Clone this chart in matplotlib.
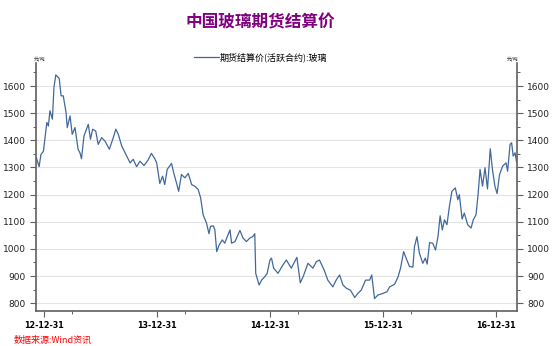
import numpy as np
import pandas as pd
import matplotlib
matplotlib.use("Agg")
import matplotlib.pyplot as plt
import matplotlib.dates as mdates
from matplotlib.ticker import MultipleLocator, FixedLocator

plt.rcParams['font.family'] = ['Noto Sans CJK SC', 'DejaVu Sans']

# glass futures settlement price (active contract)
dates = [
    "2012-12-05", "2012-12-14", "2012-12-20", "2012-12-28", "2013-01-08", "2013-01-13",
    "2013-01-18", "2013-01-26", "2013-01-31", "2013-02-06", "2013-02-17", "2013-02-23",
    "2013-03-02", "2013-03-11", "2013-03-15", "2013-03-24", "2013-03-31", "2013-04-09",
    "2013-04-19", "2013-04-25", "2013-04-30", "2013-05-08", "2013-05-22", "2013-05-29",
    "2013-06-05", "2013-06-15", "2013-06-23", "2013-07-04", "2013-07-15", "2013-07-29",
    "2013-08-09", "2013-08-19", "2013-08-27", "2013-09-07", "2013-09-23", "2013-10-04",
    "2013-10-14", "2013-10-25", "2013-11-05", "2013-11-18", "2013-12-01", "2013-12-12",
    "2013-12-23", "2013-12-29", "2014-01-08", "2014-01-17", "2014-01-24", "2014-02-01",
    "2014-02-15", "2014-02-22", "2014-03-03", "2014-03-10", "2014-03-19", "2014-03-30",
    "2014-04-10", "2014-04-21", "2014-05-01", "2014-05-12", "2014-05-20", "2014-05-28",
    "2014-06-08", "2014-06-16", "2014-06-21", "2014-06-30", "2014-07-05", "2014-07-11",
    "2014-07-19", "2014-07-29", "2014-08-06", "2014-08-14", "2014-08-23", "2014-08-28",
    "2014-09-08", "2014-09-15", "2014-09-24", "2014-10-04", "2014-10-15", "2014-10-26",
    "2014-11-04", "2014-11-11", "2014-11-14", "2014-11-25", "2014-12-03", "2014-12-13",
    "2014-12-21", "2014-12-30", "2015-01-04", "2015-01-11", "2015-01-25", "2015-02-10",
    "2015-02-21", "2015-03-09", "2015-03-27", "2015-04-07", "2015-04-16", "2015-05-02",
    "2015-05-18", "2015-05-29", "2015-06-08", "2015-06-24", "2015-07-05", "2015-07-21",
    "2015-08-01", "2015-08-12", "2015-08-23", "2015-09-03", "2015-09-16", "2015-09-30",
    "2015-10-10", "2015-10-21", "2015-11-04", "2015-11-17", "2015-11-24", "2015-12-03",
    "2015-12-14", "2015-12-30", "2016-01-12", "2016-01-21", "2016-02-06", "2016-02-17",
    "2016-02-25", "2016-03-06", "2016-03-14", "2016-03-25", "2016-04-05", "2016-04-10",
    "2016-04-18", "2016-04-26", "2016-05-07", "2016-05-15", "2016-05-21", "2016-05-29",
    "2016-06-08", "2016-06-17", "2016-06-25", "2016-07-02", "2016-07-09", "2016-07-16",
    "2016-07-24", "2016-08-01", "2016-08-09", "2016-08-20", "2016-08-28", "2016-09-02",
    "2016-09-11", "2016-09-18", "2016-09-29", "2016-10-10", "2016-10-17", "2016-10-26",
    "2016-11-02", "2016-11-08", "2016-11-16", "2016-11-24", "2016-12-02", "2016-12-11",
    "2016-12-18", "2016-12-26", "2017-01-02", "2017-01-10", "2017-01-20", "2017-01-31",
    "2017-02-05", "2017-02-13", "2017-02-18", "2017-02-23", "2017-03-01", "2017-03-06",
]
price = [
    1336, 1303, 1348, 1360, 1466, 1453,
    1509, 1478, 1595, 1641, 1628, 1564,
    1564, 1503, 1447, 1490, 1422, 1447,
    1367, 1354, 1332, 1416, 1459, 1404,
    1441, 1434, 1385, 1410, 1397, 1367,
    1404, 1441, 1422, 1379, 1342, 1317,
    1330, 1303, 1323, 1307, 1327, 1352,
    1332, 1317, 1241, 1268, 1237, 1293,
    1315, 1280, 1243, 1212, 1274, 1262,
    1278, 1237, 1231, 1219, 1188, 1126,
    1095, 1056, 1083, 1085, 1070, 990,
    1015, 1033, 1021, 1045, 1070, 1021,
    1027, 1045, 1068, 1040, 1027, 1040,
    1045, 1056, 910, 867, 885, 897,
    910, 959, 966, 929, 910, 941,
    959, 929, 969, 875, 897, 947,
    929, 953, 959, 920, 885, 860,
    885, 904, 867, 855, 848, 821,
    836, 848, 885, 885, 904, 817,
    830, 836, 842, 860, 870, 897,
    929, 990, 966, 935, 933, 1008,
    1045, 984, 947, 966, 944, 1023,
    1021, 996, 1045, 1122, 1070, 1107,
    1089, 1157, 1212, 1225, 1181, 1200,
    1110, 1132, 1089, 1077, 1107, 1126,
    1206, 1293, 1231, 1299, 1221, 1369,
    1293, 1231, 1204, 1274, 1305, 1317,
    1286, 1385, 1391, 1342, 1354, 1320,
]

tick_dates = ["2012-12-31", "2013-12-31", "2014-12-31", "2015-12-31", "2016-12-31"]
tick_labels = ["12-12-31", "13-12-31", "14-12-31", "15-12-31", "16-12-31"]
y_ticks = [800, 900, 1000, 1100, 1200, 1300, 1400, 1500, 1600]

title = "中国玻璃期货结算价"
series_name = "期货结算价(活跃合约):玻璃"
unit = "元/吨"
source = "数据来源:Wind资讯"

x = pd.to_datetime(dates)
axis_col = "#606060"

fig = plt.figure(figsize=(5.54, 3.46), dpi=100)
ax = fig.add_axes([0.065, 0.101, 0.868, 0.717])

ax.plot(x, price, color="#41689c", lw=0.9, label=series_name)

ax.set_xlim(pd.Timestamp("2012-12-04"), pd.Timestamp("2017-03-07"))
ax.set_ylim(771, 1685)

ax.xaxis.set_major_locator(FixedLocator(mdates.date2num(pd.to_datetime(tick_dates))))
ax.set_xticklabels(tick_labels, fontsize=5.8, fontweight="bold", family="DejaVu Sans")
ax.xaxis.set_minor_locator(mdates.MonthLocator(bymonth=[3, 6, 9, 12], bymonthday=31))

ax.set_yticks(y_ticks)
ax.yaxis.set_minor_locator(MultipleLocator(50))
ax.tick_params(axis="y", labelsize=6.5, colors="#222222", labelleft=True, labelright=True,
               left=True, right=True, which="both")
ax.tick_params(which="both", color=axis_col, direction="out")
ax.tick_params(which="major", length=4, width=0.8)
ax.tick_params(which="minor", length=2.5, width=0.7)
ax.tick_params(axis="x", pad=3)
for lab in ax.get_yticklabels():
    lab.set_family("DejaVu Sans")

ax.grid(axis="y", color="#e3e3e3", lw=0.8)
ax.set_axisbelow(True)
ax.spines["top"].set_visible(False)
for s in ["left", "right", "bottom"]:
    ax.spines[s].set_color(axis_col)
    ax.spines[s].set_linewidth(1.2)

fig.text(0.47, 0.935, title, ha="center", va="center", fontsize=12,
         fontweight="bold", color="#800080")
leg = fig.legend(loc="center", bbox_to_anchor=(0.47, 0.835), frameon=False, fontsize=6.5,
                 handlelength=2.8, handletextpad=0.1)
fig.text(0.072, 0.822, unit, ha="center", va="bottom", fontsize=3.5, color="#222222")
fig.text(0.925, 0.822, unit, ha="center", va="bottom", fontsize=3.5, color="#222222")
fig.text(0.025, 0.004, source, ha="left", va="bottom", fontsize=6.5, color="#ff0000",
         style="italic")

fig.savefig("out.png", dpi=100)
